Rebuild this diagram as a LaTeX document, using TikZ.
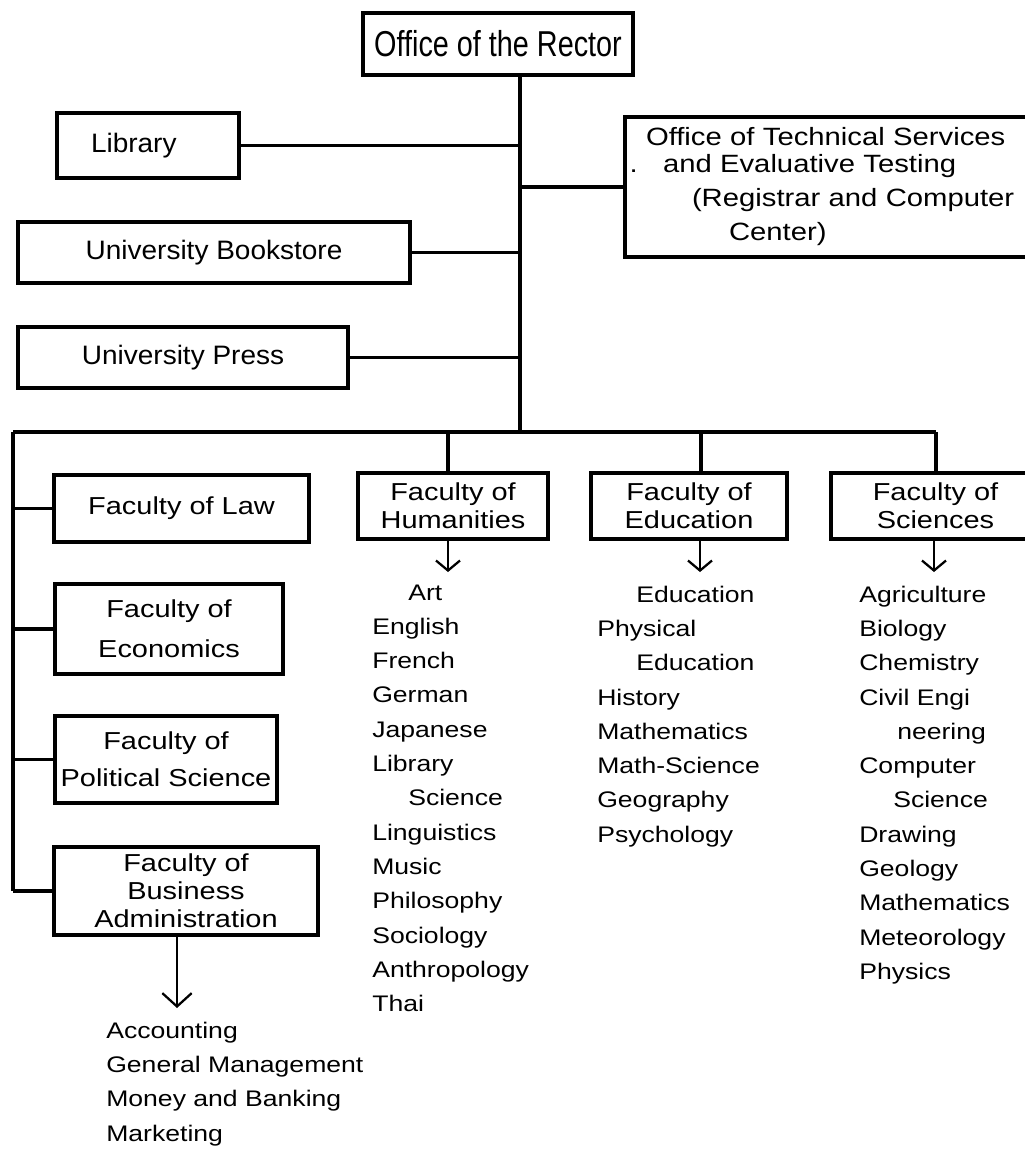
\documentclass[tikz,border=0pt]{standalone}
\usepackage{fontspec}
\setmainfont{Liberation Sans}
\newfontfamily\condfont[FakeStretch=0.8]{Liberation Sans}
\newfontfamily\boxfont[FakeStretch=1.05]{Liberation Sans}
\newfontfamily\otsfont[FakeStretch=1.17]{Liberation Sans}
\newfontfamily\widefont[FakeStretch=1.18]{Liberation Sans}
\usetikzlibrary{arrows.meta}
\begin{document}
\begin{tikzpicture}[x=0.75pt,y=-0.75pt,
  box/.style={draw, line width=2.4pt, inner sep=0pt, align=center},
  upper/.style={font=\boxfont\fontsize{20}{24}\selectfont},
  faculty/.style={font=\widefont\fontsize{18.4}{21}\selectfont},
  link/.style={line width=2.4pt},
  down/.style={line width=1.7pt, -{Straight Barb[length=7.5pt,width=18pt,line width=1.7pt]}},
  bigdown/.style={line width=1.7pt, -{Straight Barb[length=10pt,width=22pt,line width=1.7pt]}},
  item/.style={anchor=base west, inner sep=0pt, font=\widefont\fontsize{16.9}{20}\selectfont}]

\useasboundingbox (0,0) rectangle (1025,1154);
\fill[white] (0,0) rectangle (1025,1154);
\clip (0,0) rectangle (1025,1154);

% top office and the units reporting to it
\node[box, minimum width=202.5pt, minimum height=46.5pt,
      font=\condfont\fontsize{27}{30}\selectfont] (rector) at (498,44) {Office of the Rector};
\node[box, upper, minimum width=136.5pt, minimum height=48.75pt,
      text width=85.5pt, inner xsep=25.5pt, align=left] (library) at (148,145.5) {Library};
\node[box, upper, minimum width=294pt, minimum height=45.75pt] (bookstore) at (214,252.5) {University Bookstore};
\node[box, upper, minimum width=247.5pt, minimum height=45.75pt] (press) at (183,357.5) {University Press};
\node[box, minimum width=311.25pt, minimum height=105pt, text width=279.75pt, inner xsep=15.75pt,
      align=left, font=\otsfont\fontsize{18.75}{25.5}\selectfont] (ots) at (832.5,187)
  {Office of Technical Services\\[-5.25pt]
   \hspace*{12.75pt}\llap{.\hspace*{19pt}}and Evaluative Testing\\
   \hspace*{34.5pt}(Registrar and Computer\\
   \hspace*{62.25pt}Center)};

% faculties
\node[box, faculty, minimum width=191.25pt, minimum height=50.25pt] (law) at (181.5,508.5) {Faculty of Law};
\node[box, faculty, minimum width=171pt, minimum height=67.5pt,
      font=\widefont\fontsize{18.4}{30}\selectfont] (economics) at (169,629) {Faculty of\\Economics};
\node[box, faculty, minimum width=166.5pt, minimum height=65.25pt,
      font=\widefont\fontsize{18.4}{27.75}\selectfont] (polsci) at (166,759.5) {Faculty of\\Political Science};
\node[box, faculty, minimum width=198pt, minimum height=66pt] (business) at (186,891)
  {Faculty of\\Business\\Administration};
\node[box, faculty, minimum width=142.5pt, minimum height=49.5pt] (humanities) at (453,506) {Faculty of\\Humanities};
\node[box, faculty, minimum width=147pt, minimum height=49.5pt] (education) at (689,506) {Faculty of\\Education};
\node[box, faculty, minimum width=156.75pt, minimum height=49.5pt] (sciences) at (935.5,506) {Faculty of\\Sciences};

% junction points of the line network
\coordinate (trunk) at (520,432);
\coordinate (busL) at (13,432);
\coordinate (busR) at (936,432);
\coordinate (humX) at (448,0);
\coordinate (eduX) at (701,0);
\coordinate (sciX) at (936,0);
\coordinate (humTip) at (448,572);
\coordinate (eduTip) at (700,572);
\coordinate (sciTip) at (934,572);
\coordinate (busTip) at (177,1008);

% trunk and side branches
\draw[link] (rector.south -| trunk) -- (trunk);
\draw[link] (library.east) -- (library.east -| trunk);
\draw[link] (ots.west) -- (ots.west -| trunk);
\draw[link] (bookstore.east) -- (bookstore.east -| trunk);
\draw[link] (press.east) -- (press.east -| trunk);

% horizontal bus and drops to the faculties
\draw[link] (busL) -- (busR);
\draw[link] (humX |- busL) -- (humX |- humanities.north);
\draw[link] (eduX |- busL) -- (eduX |- education.north);
\draw[link] (sciX |- busL) -- (sciX |- sciences.north);
\draw[link] (busL) -- (business.west -| busL);
\draw[link] (law.west -| busL) -- (law.west);
\draw[link] (economics.west -| busL) -- (economics.west);
\draw[link] (polsci.west -| busL) -- (polsci.west);
\draw[link] (business.west -| busL) -- (business.west);

% arrows to the departments
\draw[down] (humanities.south -| humTip) -- (humTip);
\draw[down] (education.south -| eduTip) -- (eduTip);
\draw[down] (sciences.south -| sciTip) -- (sciTip);
\draw[bigdown] (business.south -| busTip) -- (busTip);

% department lists
\foreach [count=\i] \t/\d in {Art/36, English/0, French/0, German/0, Japanese/0, Library/0,
    Science/36, Linguistics/0, Music/0, Philosophy/0, Sociology/0, Anthropology/0, Thai/0}
  \node[item] (hum-\i) at ({372+\d},{600+(\i-1)*34.33}) {\t};
\foreach [count=\i] \t/\d in {Education/39, Physical/0, Education/39, History/0, Mathematics/0,
    Math-Science/0, Geography/0, Psychology/0}
  \node[item] (edu-\i) at ({597+\d},{602+(\i-1)*34.33}) {\t};
\foreach [count=\i] \t/\d in {Agriculture/0, Biology/0, Chemistry/0, Civil Engi/0, neering/38,
    Computer/0, Science/34, Drawing/0, Geology/0, Mathematics/0, Meteorology/0, Physics/0}
  \node[item] (sci-\i) at ({859+\d},{602+(\i-1)*34.33}) {\t};
\foreach [count=\i] \t in {Accounting, General Management, Money and Banking, Marketing}
  \node[item] (bus-\i) at (106,{1038+(\i-1)*34.33}) {\t};
\end{tikzpicture}
\end{document}
